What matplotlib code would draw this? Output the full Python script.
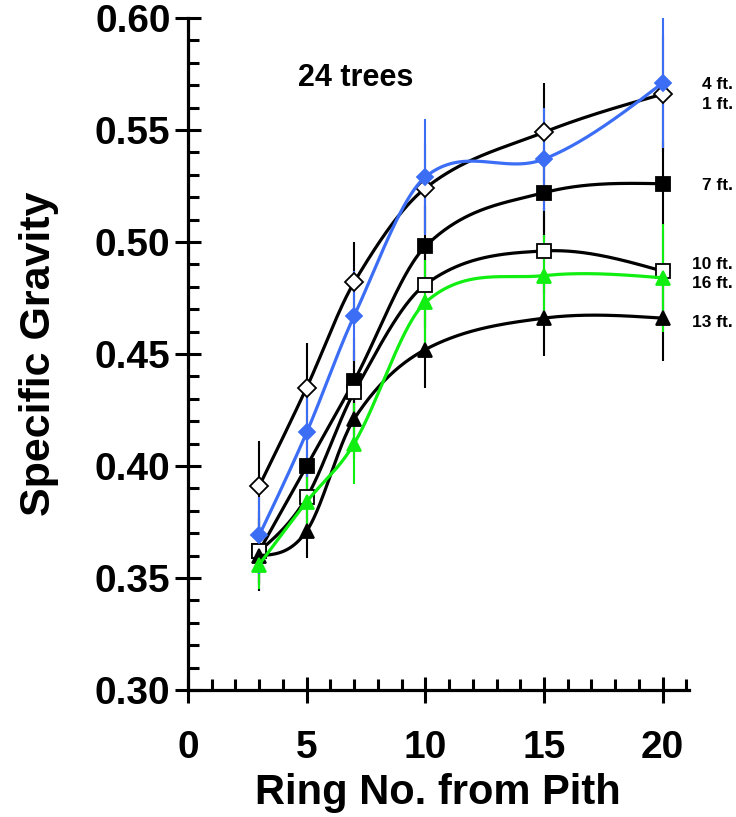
import numpy as np
import matplotlib
matplotlib.use("Agg")
from matplotlib import pyplot as plt
from matplotlib.ticker import MultipleLocator

plt.rcParams['font.family'] = ['Liberation Sans', 'DejaVu Sans']
plt.rcParams['font.weight'] = 'bold'

rings = [3, 5, 7, 10, 15, 20]

sg_1ft = [0.391, 0.435, 0.482, 0.524, 0.549, 0.566]
sg_4ft = [0.369, 0.415, 0.467, 0.529, 0.537, 0.571]
sg_7ft = [0.362, 0.400, 0.438, 0.498, 0.522, 0.526]
sg_10ft = [0.362, 0.386, 0.433, 0.481, 0.496, 0.487]
sg_13ft = [0.360, 0.371, 0.421, 0.452, 0.466, 0.466]
sg_16ft = [0.356, 0.384, 0.410, 0.473, 0.485, 0.484]

err_1ft = [0.020, 0.020, 0.018, 0.020, 0.022, 0.026]
err_4ft = [0.017, 0.020, 0.020, 0.026, 0.023, 0.029]
err_7ft = [0.018, 0.018, 0.019, 0.018, 0.020, 0.019]
err_10ft = [0.015, 0.018, 0.019, 0.019, 0.019, 0.019]
err_13ft = [0.012, 0.012, 0.018, 0.017, 0.017, 0.019]
err_16ft = [0.011, 0.015, 0.018, 0.019, 0.018, 0.024]

labels = ['1 ft.', '4 ft.', '7 ft.', '10 ft.', '13 ft.', '16 ft.']
label_y = [0.5615, 0.5705, 0.525, 0.4900, 0.464, 0.4815]

BLUE = '#3b6ef5'
GREEN = '#11ee11'


def smooth(x, y, xs):
    # hermite curve through the points (drawing only), finite-difference slopes
    x = np.asarray(x, float)
    y = np.asarray(y, float)
    n = len(x)
    m = np.zeros(n)
    for i in range(1, n - 1):
        m[i] = (y[i + 1] - y[i - 1]) / (x[i + 1] - x[i - 1])
    m[0] = (3 * (y[1] - y[0]) / (x[1] - x[0]) - m[1]) / 2
    m[-1] = (3 * (y[-1] - y[-2]) / (x[-1] - x[-2]) - m[-2]) / 2
    idx = np.clip(np.searchsorted(x, xs) - 1, 0, n - 2)
    h = x[idx + 1] - x[idx]
    t = (xs - x[idx]) / h
    h00 = 2 * t ** 3 - 3 * t ** 2 + 1
    h10 = t ** 3 - 2 * t ** 2 + t
    h01 = -2 * t ** 3 + 3 * t ** 2
    h11 = t ** 3 - t ** 2
    return h00 * y[idx] + h10 * h * m[idx] + h01 * y[idx + 1] + h11 * h * m[idx + 1]


fig = plt.figure(figsize=(7.36, 8.17), dpi=100)
ax = fig.add_axes([0.2554, 0.1554, 0.6804, 0.8226])

series = [
    (sg_1ft, err_1ft, 'black', 'D', 'white', 9),
    (sg_7ft, err_7ft, 'black', 's', 'black', 10),
    (sg_10ft, err_10ft, 'black', 's', 'white', 10),
    (sg_13ft, err_13ft, 'black', '^', 'black', 10),
    (sg_16ft, err_16ft, GREEN, '^', GREEN, 10),
    (sg_4ft, err_4ft, BLUE, 'D', BLUE, 8),
]

xs = np.linspace(rings[0], rings[-1], 400)
for i, (vals, err, col, mk, fc, ms) in enumerate(series):
    ax.errorbar(rings, vals, yerr=err, fmt='none', ecolor=col, elinewidth=1.5,
                capsize=0, zorder=2 + i * 0.1)
for i, (vals, err, col, mk, fc, ms) in enumerate(series):
    ax.plot(xs, smooth(rings, vals, xs), color=col, lw=2.3, zorder=3 + i)
    ax.plot(rings, vals, linestyle='none', marker=mk, markersize=ms,
            markerfacecolor=fc, markeredgecolor='black' if col == 'black' else col,
            markeredgewidth=1.3, zorder=3.5 + i)

for lab, ly in zip(labels, label_y):
    ax.text(22.95, ly, lab, ha='right', va='center', fontsize=12.5,
            fontweight='bold', clip_on=False)

ax.text(7.05, 0.573, '24 trees', ha='center', va='center', fontsize=22,
        fontweight='bold')

ax.set_xlim(0, 21.1)
ax.set_ylim(0.30, 0.60)
ax.spines['top'].set_visible(False)
ax.spines['right'].set_visible(False)
ax.spines['left'].set_linewidth(2.3)
ax.spines['bottom'].set_linewidth(2.3)

ax.xaxis.set_major_locator(MultipleLocator(5))
ax.xaxis.set_minor_locator(MultipleLocator(1))
ax.yaxis.set_major_locator(MultipleLocator(0.05))
ax.yaxis.set_minor_locator(MultipleLocator(0.01))
ax.set_xticks([0, 5, 10, 15, 20])
ax.set_yticks([0.30, 0.35, 0.40, 0.45, 0.50, 0.55, 0.60])
ax.set_yticklabels(['0.30', '0.35', '0.40', '0.45', '0.50', '0.55', '0.60'])

ax.tick_params(which='major', direction='inout', length=19, width=2.2,
               labelsize=28)
ax.tick_params(which='minor', direction='in', length=8, width=2.2)
ax.tick_params(axis='x', which='major', pad=19)
ax.tick_params(axis='y', which='major', pad=3)

ax.set_xlabel('Ring No. from Pith', fontsize=30, fontweight='bold', labelpad=5)
ax.set_ylabel('Specific Gravity', fontsize=31, fontweight='bold', labelpad=26)

fig.savefig('out.png', dpi=100)
